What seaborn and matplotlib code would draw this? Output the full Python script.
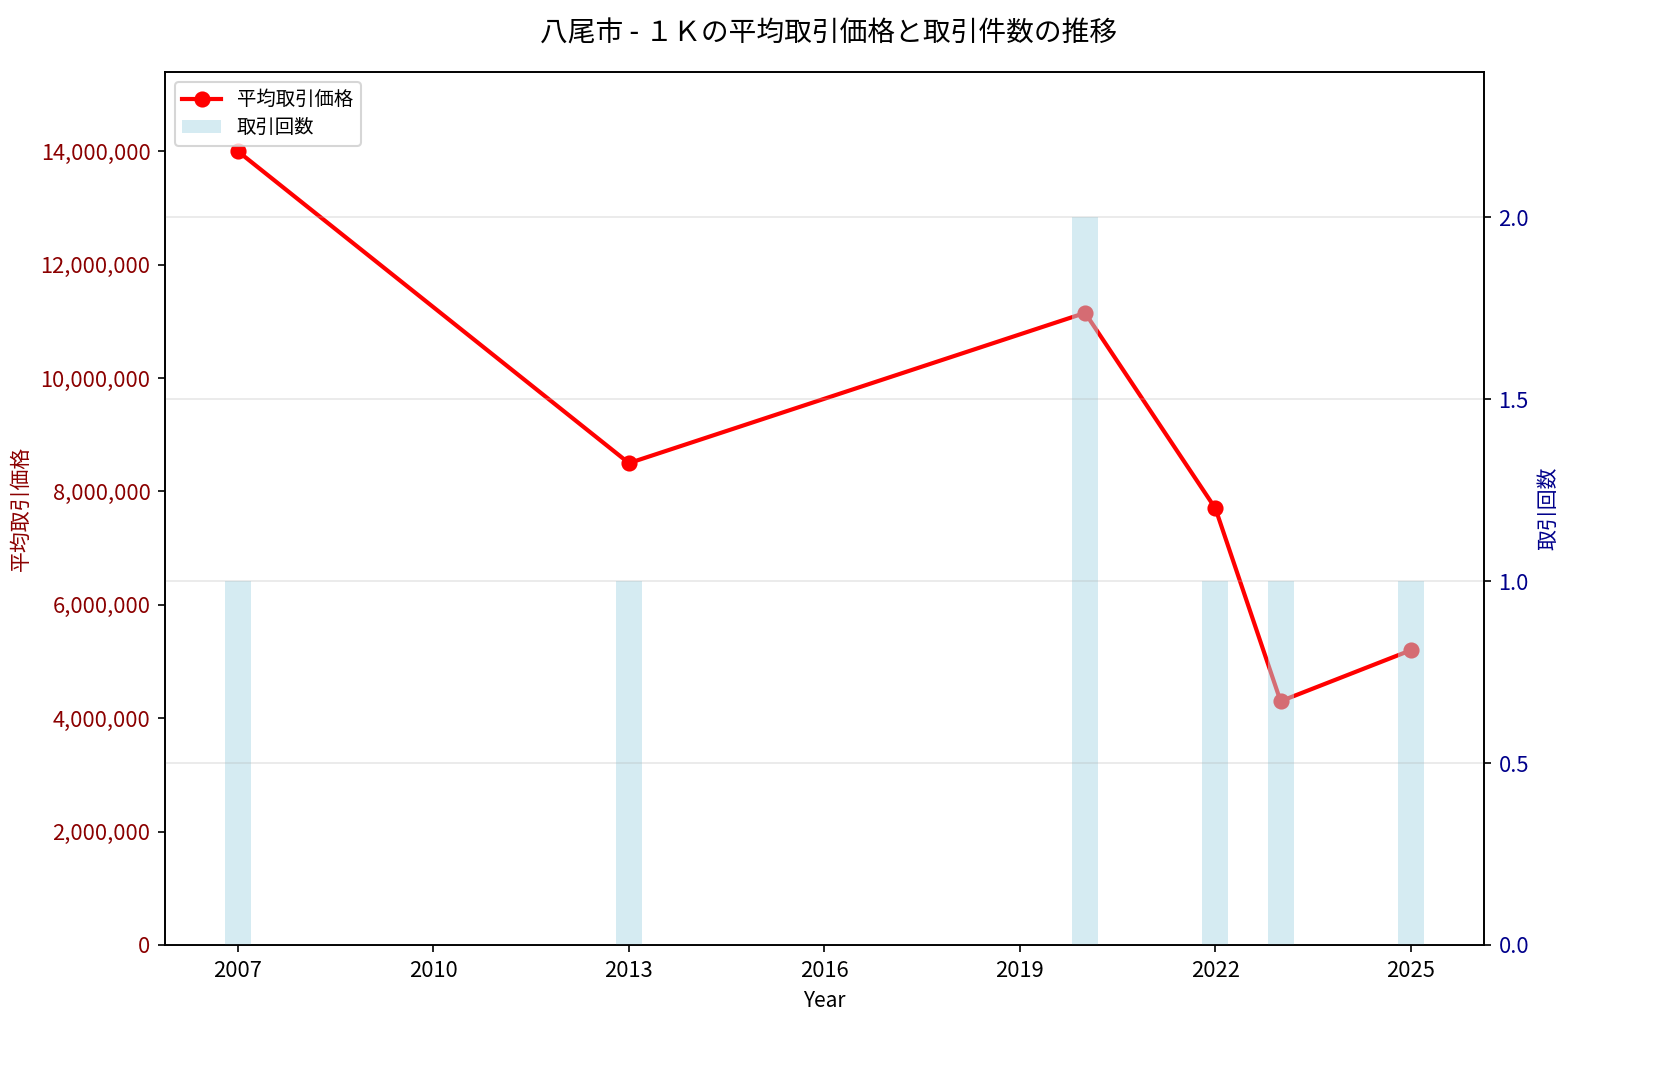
import matplotlib
matplotlib.use("Agg")
import matplotlib.pyplot as plt
import seaborn as sns
import pandas as pd
from matplotlib.ticker import FuncFormatter

years = [2007, 2013, 2020, 2022, 2023, 2025]
avg_price = [14000000, 8500000, 11150000, 7700000, 4300000, 5200000]
counts = [1, 1, 2, 1, 1, 1]
xticks = [2007, 2010, 2013, 2016, 2019, 2022, 2025]

plt.rcParams['font.family'] = ['Noto Sans CJK JP', 'DejaVu Sans']
plt.rcParams['axes.unicode_minus'] = False

df = pd.DataFrame({"year": years, "price": avg_price, "count": counts})

fig, ax1 = plt.subplots(figsize=(1658/150, 1079/150), dpi=150)
fig.subplots_adjust(left=0.0995, right=0.895, top=0.9333, bottom=0.1242)

sns.lineplot(data=df, x="year", y="price", ax=ax1, color="red", marker="o",
             markersize=7, linewidth=2, markeredgecolor="red", label="平均取引価格", legend=False)
ax1.set_xlabel("Year", fontsize=10)
ax1.set_ylabel("平均取引価格", color="darkred", fontsize=10)
ax1.tick_params(axis="y", labelcolor="darkred", labelsize=10.5)
ax1.tick_params(axis="x", labelsize=10.5)
ax1.yaxis.set_major_formatter(FuncFormatter(lambda v, p: f"{int(v):,}"))
ax1.set_ylim(0, max(avg_price) * 1.1)
ax1.set_xticks(xticks)

ax2 = ax1.twinx()
ax2.bar(df["year"], df["count"], width=0.4, color="lightblue", alpha=0.5, label="取引回数")
ax2.set_ylabel("取引回数", color="darkblue", fontsize=10)
ax2.tick_params(axis="y", labelcolor="darkblue", labelsize=10.5)
ax2.set_ylim(0, max(counts) * 1.2)
ax2.set_yticks([0.0, 0.5, 1.0, 1.5, 2.0])
ax2.grid(True, axis="y", alpha=0.3)
ax1.set_xlim(2005.88, 2026.12)

h1, l1 = ax1.get_legend_handles_labels()
h2, l2 = ax2.get_legend_handles_labels()
ax2.legend(h1 + h2, l1 + l2, loc="upper left", fontsize=9.3, labelspacing=0.35)

fig.suptitle("八尾市 - １Ｋの平均取引価格と取引件数の推移", fontsize=13.3, y=0.983)
fig.savefig("out.png", dpi=150)
